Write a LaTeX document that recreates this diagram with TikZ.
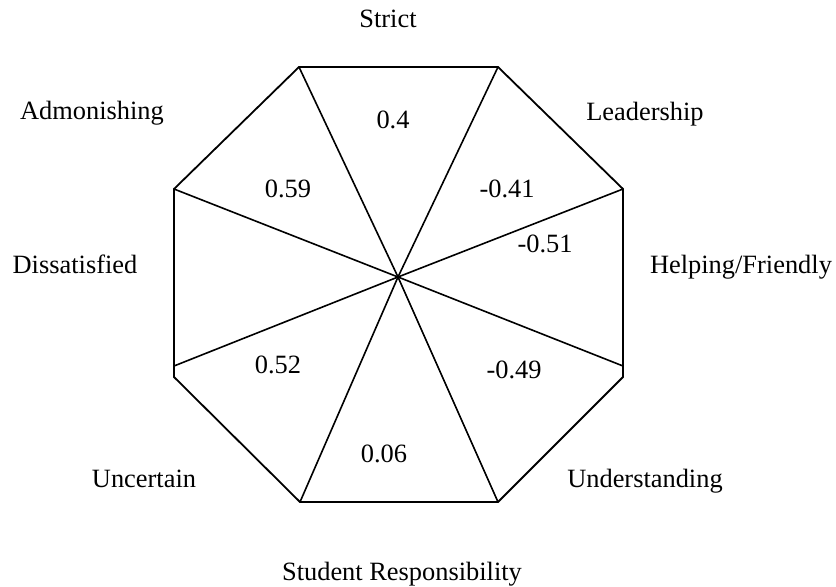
\documentclass[tikz,border=0pt]{standalone}
\usepackage{fontspec}
\setmainfont{Liberation Serif}
\begin{document}
\begin{tikzpicture}[x=1bp,y=-1bp,
  edge/.style={line width=1.8bp, black, line join=miter},
  spoke/.style={line width=1.6bp, black},
  lbl/.style={anchor=base, inner sep=0pt, font=\fontsize{26.4bp}{30bp}\selectfont},
  val/.style={lbl}]
  \useasboundingbox (0,0) rectangle (836,587);

  % octagon corners
  \coordinate (A) at (299,67);
  \coordinate (B) at (498,67);
  \coordinate (C) at (623,189);
  \coordinate (D) at (623,377);
  \coordinate (E) at (498,502);
  \coordinate (F) at (300,502);
  \coordinate (G) at (174,377);
  \coordinate (H) at (174,189);
  % lower spoke ends on the vertical sides
  \coordinate (Dr) at (623,366);
  \coordinate (Gl) at (174,366);
  % hub
  \coordinate (O) at (398,277);

  % outline
  \draw[edge] (A) -- (B) -- (C) -- (D) -- (E) -- (F) -- (G) -- (H) -- cycle;

  % spokes
  \foreach \p in {A,B,C,Dr,E,F,Gl,H}
    \draw[spoke] (\p) -- (O);

  % scale names
  \node[lbl] (strict) at (388,28)  {Strict};
  \node[lbl] (lead)   at (645,121) {Leadership};
  \node[lbl] (help)   at (741,273) {Helping/Friendly};
  \node[lbl] (under)  at (645,487) {Understanding};
  \node[lbl] (resp)   at (402,580) {Student Responsibility};
  \node[lbl] (unc)    at (144,487) {Uncertain};
  \node[lbl] (dis)    at (75,273)  {Dissatisfied};
  \node[lbl] (adm)    at (92,120)  {Admonishing};

  % sector values
  \node[val] (v1) at (393,129) {0.4};
  \node[val] (v2) at (507,198) {-0.41};
  \node[val] (v3) at (545,252) {-0.51};
  \node[val] (v4) at (514,378) {-0.49};
  \node[val] (v5) at (384,462) {0.06};
  \node[val] (v6) at (278,373) {0.52};
  \node[val] (v7) at (288,198) {0.59};
\end{tikzpicture}
\end{document}
